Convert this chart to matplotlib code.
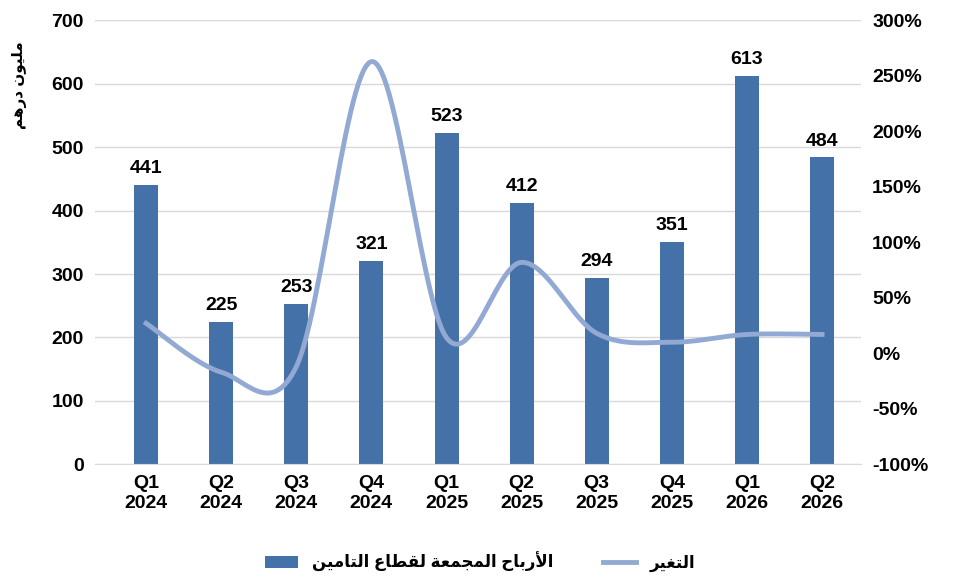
import numpy as np
import matplotlib
matplotlib.use("Agg")
import matplotlib.pyplot as plt
from matplotlib.ticker import FuncFormatter

quarters = ["Q1\n2024", "Q2\n2024", "Q3\n2024", "Q4\n2024", "Q1\n2025",
            "Q2\n2025", "Q3\n2025", "Q4\n2025", "Q1\n2026", "Q2\n2026"]
profits = [441, 225, 253, 321, 523, 412, 294, 351, 613, 484]
change = [27, -17, -12, 263, 14, 82, 18, 10, 17, 17]

# simple arabic shaping (no arabic_reshaper available)
FORMS = {
    'ا': (0xFE8D, 0xFE8E, None, None), 'أ': (0xFE83, 0xFE84, None, None),
    'ل': (0xFEDD, 0xFEDE, 0xFEDF, 0xFEE0), 'ر': (0xFEAD, 0xFEAE, None, None),
    'ب': (0xFE8F, 0xFE90, 0xFE91, 0xFE92), 'ح': (0xFEA1, 0xFEA2, 0xFEA3, 0xFEA4),
    'م': (0xFEE1, 0xFEE2, 0xFEE3, 0xFEE4), 'ج': (0xFE9D, 0xFE9E, 0xFE9F, 0xFEA0),
    'ع': (0xFEC9, 0xFECA, 0xFECB, 0xFECC), 'ة': (0xFE93, 0xFE94, None, None),
    'ق': (0xFED5, 0xFED6, 0xFED7, 0xFED8), 'ط': (0xFEC1, 0xFEC2, 0xFEC3, 0xFEC4),
    'ت': (0xFE95, 0xFE96, 0xFE97, 0xFE98), 'ن': (0xFEE5, 0xFEE6, 0xFEE7, 0xFEE8),
    'ي': (0xFEF1, 0xFEF2, 0xFEF3, 0xFEF4), 'غ': (0xFECD, 0xFECE, 0xFECF, 0xFED0),
    'و': (0xFEED, 0xFEEE, None, None), 'د': (0xFEA9, 0xFEAA, None, None),
    'ه': (0xFEE9, 0xFEEA, 0xFEEB, 0xFEEC),
}
LAMALEF = {'ا': (0xFEFB, 0xFEFC), 'أ': (0xFEF7, 0xFEF8)}


def shape(text):
    out = []
    chars = list(text)
    i = 0
    while i < len(chars):
        c = chars[i]
        if c not in FORMS:
            out.append(c)
            i += 1
            continue
        prev = chars[i - 1] if i > 0 else None
        joins_prev = prev in FORMS and FORMS[prev][2] is not None
        if c == 'ل' and i + 1 < len(chars) and chars[i + 1] in LAMALEF:
            out.append(chr(LAMALEF[chars[i + 1]][1 if joins_prev else 0]))
            i += 2
            continue
        nxt = chars[i + 1] if i + 1 < len(chars) else None
        joins_next = FORMS[c][2] is not None and nxt in FORMS
        f = FORMS[c]
        if joins_prev and joins_next:
            g = f[3]
        elif joins_prev:
            g = f[1]
        elif joins_next:
            g = f[2]
        else:
            g = f[0]
        out.append(chr(g))
        i += 1
    return "".join(out[::-1])


FAM = ['Liberation Sans', 'DejaVu Sans']
plt.rcParams['font.family'] = FAM
plt.rcParams['font.weight'] = 'bold'

bar_c = '#4472a8'
line_c = '#92a9d3'

fig, ax = plt.subplots(figsize=(9.6, 5.84), dpi=100)
fig.subplots_adjust(left=0.099, right=0.897, top=0.965, bottom=0.205)
x = np.arange(len(quarters))
ax.bar(x, profits, width=0.32, color=bar_c, label=shape("الأرباح المجمعة لقطاع التامين"), zorder=2)
for xi, v in zip(x, profits):
    ax.text(xi, v + 12, str(v), ha='center', va='bottom', fontsize=14, fontweight='bold')
ax.set_ylim(0, 700)
ax.set_yticks(range(0, 701, 100))
ax.set_xlim(-0.68, len(x) - 0.48)
ax.set_xticks(x)
ax.set_xticklabels(quarters, fontsize=14, fontweight='bold')
ax.tick_params(axis='both', length=0, labelsize=14, pad=8)
ax.grid(axis='y', color='#d9d9d9', lw=1, zorder=0)
for s in ['top', 'right', 'left']:
    ax.spines[s].set_visible(False)
ax.spines['bottom'].set_color('#d9d9d9')
for t in ax.get_yticklabels():
    t.set_fontweight('bold')
fig.text(0.012, 0.93, shape("مليون درهم"), rotation=90, ha='left', va='top', fontsize=11, fontweight='bold')

# smooth line (Catmull-Rom through the data points)
ax2 = ax.twinx()
px = np.array(x, dtype=float)
py = np.array(change, dtype=float)
P = np.vstack([px, py]).T
P = np.vstack([P[0], P, P[-1]])
xs, ys = [], []
for k in range(1, len(P) - 2):
    p0, p1, p2, p3 = P[k - 1], P[k], P[k + 1], P[k + 2]
    t = np.linspace(0, 1, 30)[:, None]
    seg = 0.5 * ((2 * p1) + (-p0 + p2) * t + (2 * p0 - 5 * p1 + 4 * p2 - p3) * t ** 2
                 + (-p0 + 3 * p1 - 3 * p2 + p3) * t ** 3)
    xs.extend(seg[:, 0]); ys.extend(seg[:, 1])
ax2.plot(xs, ys, color=line_c, lw=3.5, label=shape("التغير"), zorder=3)
ax2.set_ylim(-100, 300)
ax2.set_yticks(range(-100, 301, 50))
ax2.yaxis.set_major_formatter(FuncFormatter(lambda v, p: f"{int(v)}%"))
ax2.tick_params(axis='y', length=0, labelsize=14, pad=8)
for t in ax2.get_yticklabels():
    t.set_fontweight('bold')
for s in ax2.spines.values():
    s.set_visible(False)

h1, l1 = ax.get_legend_handles_labels()
h2, l2 = ax2.get_legend_handles_labels()
fig.legend(h1 + h2, l1 + l2, loc='lower center', ncol=2, frameon=False,
           bbox_to_anchor=(0.5, -0.005), prop={'family': FAM, 'size': 12}, columnspacing=3)
fig.savefig("out.png", dpi=100)
